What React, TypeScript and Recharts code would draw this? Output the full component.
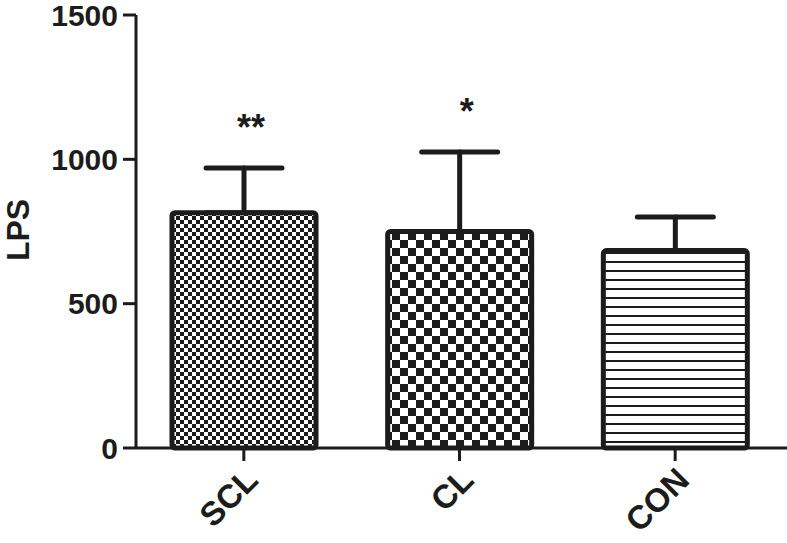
import React from 'react';
import { BarChart, Bar, XAxis, YAxis, Cell, ErrorBar, LabelList } from 'recharts';

const categories = ['SCL', 'CL', 'CON'];
const means = [815, 750, 684];
const errorsUp = [155, 275, 116];
const stars = ['**', '*', ''];
const yTicks = [0, 500, 1000, 1500];
const patterns = ['url(#pSmallCheck)', 'url(#pBigCheck)', 'url(#pLines)'];

const data = categories.map((c, i) => ({
  name: c,
  value: means[i],
  err: [0, errorsUp[i]],
  star: stars[i],
}));

const INK = '#1c1c1c';
const FONT = '"Liberation Sans", Arial, sans-serif';

const XTick = (props: any) => {
  const { x, y, payload } = props;
  const ax = x + 16;
  const ay = y + 19;
  return (
    <text
      x={ax}
      y={ay}
      transform={`rotate(-45, ${ax}, ${ay})`}
      textAnchor="end"
      fontFamily={FONT}
      fontWeight="bold"
      fontSize={33}
      fill={INK}
    >
      {payload.value}
    </text>
  );
};

const YLabel = () => (
  <text
    x={29}
    y={230}
    transform="rotate(-90, 29, 230)"
    textAnchor="middle"
    fontFamily={FONT}
    fontWeight="bold"
    fontSize={32}
    fill={INK}
  >
    LPS
  </text>
);

const StarLabel = (props: any) => {
  const { x, y, width, height, index } = props;
  const s = stars[index];
  if (!s) return null;
  const pxPerUnit = height / means[index];
  const capY = y - errorsUp[index] * pxPerUnit;
  const cx = x + width / 2 + 7;
  return (
    <text
      x={cx}
      y={capY - 28}
      textAnchor="middle"
      fontFamily={FONT}
      fontWeight="bold"
      fontSize={36}
      fill={INK}
    >
      {s}
    </text>
  );
};

export default function App() {
  return (
    <div style={{ position: 'absolute', left: 0, top: 0, background: '#fff' }}>
      <BarChart
        width={787}
        height={543}
        data={data}
        margin={{ top: 15, right: 0, bottom: 65, left: 0 }}
        barSize={144}
      >
        <defs>
          <pattern id="pSmallCheck" patternUnits="userSpaceOnUse" width={8} height={8}>
            <rect x={0} y={0} width={8} height={8} fill="#fff" />
            <rect x={0} y={0} width={4} height={4} fill={INK} />
            <rect x={4} y={4} width={4} height={4} fill={INK} />
          </pattern>
          <pattern id="pBigCheck" patternUnits="userSpaceOnUse" width={16} height={16}>
            <rect x={0} y={0} width={16} height={16} fill="#fff" />
            <rect x={0} y={0} width={8} height={8} fill={INK} />
            <rect x={8} y={8} width={8} height={8} fill={INK} />
          </pattern>
          <pattern id="pLines" patternUnits="userSpaceOnUse" width={9} height={9}>
            <rect x={0} y={0} width={9} height={9} fill="#fff" />
            <rect x={0} y={0} width={9} height={2} fill={INK} />
          </pattern>
        </defs>
        <XAxis
          dataKey="name"
          height={30}
          padding={{ left: 0, right: 4 }}
          axisLine={{ stroke: INK, strokeWidth: 3 }}
          tickLine={{ stroke: INK, strokeWidth: 3 }}
          tickSize={13}
          tick={<XTick />}
          interval={0}
        />
        <YAxis
          width={136}
          domain={[0, 1500]}
          ticks={yTicks}
          interval={0}
          axisLine={{ stroke: INK, strokeWidth: 3 }}
          tickLine={{ stroke: INK, strokeWidth: 3 }}
          tickSize={13}
          tickMargin={5}
          tick={{ fontFamily: FONT, fontWeight: 'bold', fontSize: 30, fill: INK }}
          label={<YLabel />}
        />
        <Bar dataKey="value" isAnimationActive={false} radius={3} stroke={INK} strokeWidth={5}>
          {data.map((d, i) => (
            <Cell key={d.name} fill={patterns[i]} stroke={INK} strokeWidth={5} />
          ))}
          <ErrorBar
            dataKey="err"
            direction="y"
            width={38}
            stroke={INK}
            strokeWidth={5}
            strokeLinecap="round"
            isAnimationActive={false}
          />
          <LabelList dataKey="star" content={<StarLabel />} />
        </Bar>
      </BarChart>
    </div>
  );
}
